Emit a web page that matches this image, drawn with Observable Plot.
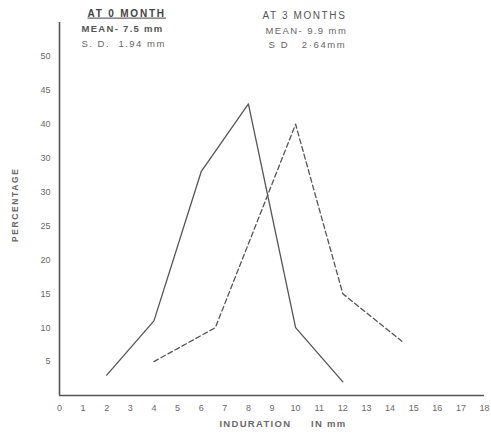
<!DOCTYPE html>
<html><head><meta charset="utf-8">
<script src="https://cdn.jsdelivr.net/npm/d3@7"></script>
<script src="https://cdn.jsdelivr.net/npm/@observablehq/plot@0.6"></script>
<style>
body{margin:0;background:#fff;}
#chart{position:relative;width:491px;height:439px;}
</style>
</head><body><div id="chart"></div>
<script>
// 0 month (solid)
const month0X = [2, 4, 6, 8, 10, 12];
const month0Y = [3, 11, 33, 43, 10, 2];
// 3 months (dashed)
const month3X = [4, 6.6, 10, 12, 14.5];
const month3Y = [5, 10, 40, 15, 8];
const xTicks = [0,1,2,3,4,5,6,7,8,9,10,11,12,13,14,15,16,17,18];
const yTicks = [5,10,15,20,25,30,35,40,45,50];
const yTickLabels = ["5","10","15","20","25","30","30","40","45","50"];
const legend0 = ["AT 0 MONTH", "MEAN- 7.5 mm", "S. D.  1.94 mm"];
const legend3 = ["AT 3 MONTHS", "MEAN- 9.9 mm", "S D   2·64mm"];

const d0 = month0X.map((x,i)=>({x, y: month0Y[i]}));
const d3 = month3X.map((x,i)=>({x, y: month3Y[i]}));
const ink = "#555";
const txt = "#6a6a6a";

const spacing = new Map([
  ["PERCENTAGE", "1.6px"], ["INDURATION     IN mm", "1.3px"],
  [legend0[0], "1.8px"], [legend0[1], "1.3px"], [legend0[2], "1.5px"],
  [legend3[0], "1.6px"], [legend3[1], "1.4px"], [legend3[2], "1.6px"]
]);

const chart = Plot.plot({
  width: 491, height: 439,
  marginLeft: 59, marginRight: 7, marginTop: 22, marginBottom: 44,
  style: {fontFamily: "Liberation Sans, Arial, sans-serif", fontSize: "9px", color: txt, background: "#fff"},
  x: {domain: [0, 18]},
  y: {domain: [0, 55]},
  marks: [
    Plot.axisX({ticks: xTicks, tickSize: 0, tickPadding: 9, label: null, fontSize: 9}),
    Plot.axisY({ticks: yTicks, tickSize: 0, tickPadding: 9, label: null, fontSize: 9,
      tickFormat: d => yTickLabels[yTicks.indexOf(d)]}),
    Plot.ruleY([0], {stroke: ink, strokeWidth: 1.6}),
    Plot.ruleX([0], {stroke: ink, strokeWidth: 1.6}),
    Plot.line(d0, {x: "x", y: "y", stroke: ink, strokeWidth: 1.3}),
    Plot.line(d3, {x: "x", y: "y", stroke: ink, strokeWidth: 1.3, strokeDasharray: "5,3"}),
    Plot.text(["PERCENTAGE"], {frameAnchor: "left", dx: -44, dy: 33, rotate: -90, fontSize: 8.5, fill: txt, fontWeight: "bold"}),
    Plot.text(["INDURATION     IN mm"], {frameAnchor: "bottom", dx: 11, dy: 31, fontSize: 9.5, fill: txt, fontWeight: "bold"}),
    Plot.text([legend0[0]], {frameAnchor: "top-left", dx: 28, dy: -13, fontSize: 10, fill: "#444", fontWeight: "bold", textAnchor: "start"}),
    Plot.text([legend0[1]], {frameAnchor: "top-left", dx: 22, dy: 3, fontSize: 9.5, fill: "#555", fontWeight: "bold", textAnchor: "start"}),
    Plot.text([legend0[2]], {frameAnchor: "top-left", dx: 22, dy: 18, fontSize: 9.5, fill: "#666", textAnchor: "start"}),
    Plot.text([legend3[0]], {frameAnchor: "top-left", dx: 203, dy: -11, fontSize: 10, fill: "#555", textAnchor: "start"}),
    Plot.text([legend3[1]], {frameAnchor: "top-left", dx: 206, dy: 5, fontSize: 9.5, fill: "#666", textAnchor: "start"}),
    Plot.text([legend3[2]], {frameAnchor: "top-left", dx: 209, dy: 19, fontSize: 9.5, fill: "#666", textAnchor: "start"})
  ]
});
document.getElementById("chart").append(chart);
for (const t of chart.querySelectorAll("text")) {
  const s = spacing.get(t.textContent);
  if (s) t.style.letterSpacing = s;
  if (t.textContent === legend0[0]) t.style.textDecoration = "underline";
}
</script></body></html>
